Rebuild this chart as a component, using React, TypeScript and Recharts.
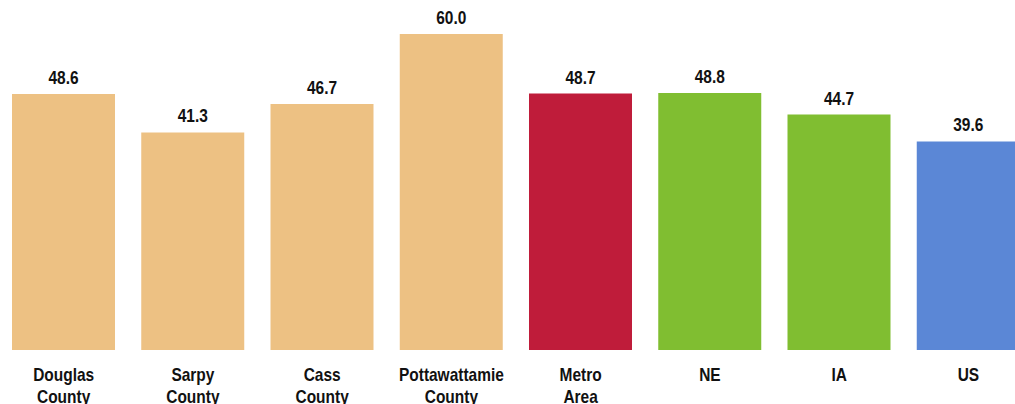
import { BarChart, Bar, XAxis, YAxis, Cell, LabelList } from 'recharts';

// categorias e valores
const CATEGORIES = [
  'Douglas County',
  'Sarpy County',
  'Cass County',
  'Pottawattamie County',
  'Metro Area',
  'NE',
  'IA',
  'US',
];
const VALUES = [48.6, 41.3, 46.7, 60.0, 48.7, 48.8, 44.7, 39.6];

const TAN = '#EDC183';
const RED = '#BF1C3A';
const GREEN = '#80BE31';
const BLUE = '#5B87D6';
const BAR_COLORS = [TAN, TAN, TAN, TAN, RED, GREEN, GREEN, BLUE];

const FONT = '"Liberation Sans", Arial, sans-serif';
// fonte estreita não existe aqui, então comprime na horizontal
const SQUEEZE = 0.86;

const data = CATEGORIES.map((name, i) => ({ name, value: VALUES[i] }));

function Tick(props: any) {
  const { x, y, payload } = props;
  const words = String(payload.value).split(' ');
  return (
    <g transform={`translate(${x},${y}) scale(${SQUEEZE},1)`}>
      <text x={0} y={0} textAnchor="middle" fill="#111" fontFamily={FONT} fontWeight="bold" fontSize={18}>
        {words.map((w, i) => (
          <tspan key={i} x={0} dy={i === 0 ? 23 : 22}>
            {w}
          </tspan>
        ))}
      </text>
    </g>
  );
}

function ValueLabel(props: any) {
  const { x, y, width, value } = props;
  const cx = Number(x) + Number(width) / 2;
  return (
    <g transform={`translate(${cx},${Number(y) - 10}) scale(${SQUEEZE},1)`}>
      <text x={0} y={0} textAnchor="middle" fill="#111" fontFamily={FONT} fontWeight="bold" fontSize={18}>
        {Number(value).toFixed(1)}
      </text>
    </g>
  );
}

export default function App() {
  return (
    <div style={{ position: 'absolute', left: 0, top: 0, width: 1015, height: 404, overflow: 'hidden', background: '#fff' }}>
      <div style={{ position: 'absolute', left: -1, top: 0 }}>
        <BarChart width={1034} height={404} data={data} margin={{ top: 34, right: 0, bottom: 0, left: 0 }} barSize={103}>
          <XAxis dataKey="name" axisLine={false} tickLine={false} height={54} interval={0} tick={<Tick />} />
          <YAxis hide domain={[0, 60]} />
          <Bar dataKey="value" isAnimationActive={false}>
            {data.map((_, idx) => (
              <Cell key={idx} fill={BAR_COLORS[idx]} />
            ))}
            <LabelList dataKey="value" content={<ValueLabel />} />
          </Bar>
        </BarChart>
      </div>
    </div>
  );
}
